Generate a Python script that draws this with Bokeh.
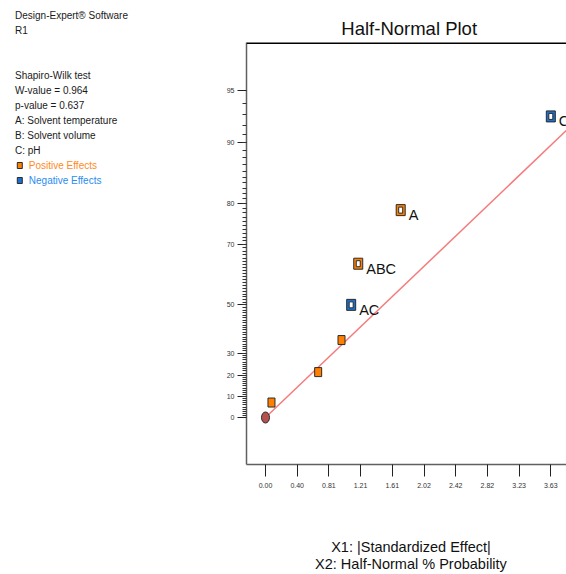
from statistics import NormalDist
from bokeh.plotting import figure
from bokeh.layouts import row, column
from bokeh.models import Range1d, FixedTicker, Span
from bokeh.core.properties import value
from bokeh.embed import file_html
from bokeh.resources import INLINE

# ---------------- data ----------------
effect_names = ["", "", "", "AC", "ABC", "A", "C"]
effect_abs = [0.076, 0.67, 0.967, 1.09, 1.18, 1.72, 3.63]          # |standardized effect|
half_normal_pct = [7.14, 21.43, 35.71, 50.0, 64.29, 78.57, 92.86]  # half-normal % probability
effect_sign = ["+", "+", "+", "-", "+", "+", "-"]
effect_selected = [False, False, False, True, True, True, True]
fit_slope = 0.449  # fitted line through the origin (z units per unit effect)

x_tick_values = [0.0, 0.4033, 0.8067, 1.21, 1.6133, 2.0167, 2.42, 2.8233, 3.2267, 3.63]
x_tick_labels = ["0.00", "0.40", "0.81", "1.21", "1.61", "2.02", "2.42", "2.82", "3.23", "3.63"]
y_tick_pct = [0, 10, 20, 30, 50, 70, 80, 90, 95]
y_minor_pct = list(range(1, 95))

info_lines = ["Design-Expert® Software", "R1", "", "", "Shapiro-Wilk test",
              "W-value = 0.964", "p-value = 0.637", "A: Solvent temperature",
              "B: Solvent volume", "C: pH"]
legend_labels = ["Positive Effects", "Negative Effects"]

title_text = "Half-Normal Plot"
xlabel_lines = ["X1: |Standardized Effect|", "X2: Half-Normal % Probability"]

# ---------------- styling ----------------
FONT = "Liberation Sans"
ORANGE = "#ff8000"
BLUE = "#1a6fd0"
ORANGE_TXT = "#ff8a1c"
BLUE_TXT = "#2a8cf0"
DARK = "#2b2b2b"

nd = NormalDist()


def hn(p):
    return nd.inv_cdf(0.5 + p / 200.0)


z_vals = [hn(v) for v in half_normal_pct]
colors = [ORANGE if s == "+" else BLUE for s in effect_sign]


def blank(w, h):
    f = figure(width=w, height=h, x_range=Range1d(0, w), y_range=Range1d(h, 0),
               x_axis_type=None, y_axis_type=None, output_backend="svg",
               toolbar_location=None, min_border=0, title_location=None)
    f.outline_line_color = None
    return f


# ---------------- left info panel ----------------
LW, H = 208, 574
left = blank(LW, H)
line_h = 15
left.text(x=[14.5] * len(info_lines), y=[15 + line_h * i for i in range(len(info_lines))],
          text=info_lines, text_baseline="middle", text_font=value(FONT),
          text_font_size="10px", text_color="#1a1a1a")
leg_y = [15 + line_h * (len(info_lines) + i) for i in range(2)]
left.rect(x=[19.3, 19.3], y=leg_y, width=5, height=6, width_units="screen",
          height_units="screen", fill_color=[ORANGE, BLUE], line_color=DARK, line_width=1)
left.text(x=[28.3, 28.3], y=leg_y, text=legend_labels, text_baseline="middle",
          text_font=value(FONT), text_font_size="10px",
          text_color=[ORANGE_TXT, BLUE_TXT])

# ---------------- title strip ----------------
RW = 566 - LW
top_fig = blank(RW, 42)
top_fig.text(x=[407 - LW - 17], y=[28], text=[title_text], text_align="center",
             text_baseline="middle", text_font=value(FONT), text_font_size="18.5px",
             text_color="#111111")

# ---------------- main plot ----------------
p = figure(width=RW, height=450, x_range=Range1d(-0.2417, 3.8295),
           y_range=Range1d(-0.2814, 2.2455), output_backend="svg",
           toolbar_location=None, title_location=None, min_border_left=38,
           min_border_right=0, min_border_top=0, min_border_bottom=28)
p.outline_line_color = None
p.xgrid.visible = False
p.ygrid.visible = False

yax = p.yaxis[0]
yax.ticker = FixedTicker(ticks=[hn(v) for v in y_tick_pct],
                         minor_ticks=[hn(v) for v in y_minor_pct])
yax.major_label_overrides = {hn(v): str(v) for v in y_tick_pct}
yax.major_tick_in = 0
yax.major_tick_out = 9
yax.minor_tick_in = 0
yax.minor_tick_out = 4
yax.major_tick_line_color = "#222222"
yax.minor_tick_line_color = "#333333"
yax.axis_line_color = "#606060"
yax.axis_line_width = 1.5
yax.major_label_text_font = FONT
yax.major_label_text_font_size = "7px"
yax.major_label_text_color = "#333333"
yax.major_label_standoff = 3

xax = p.xaxis[0]
xax.ticker = FixedTicker(ticks=x_tick_values, minor_ticks=[])
xax.major_label_overrides = {v: l for v, l in zip(x_tick_values, x_tick_labels)}
xax.major_tick_in = 0
xax.major_tick_out = 12
xax.minor_tick_line_color = None
xax.major_tick_line_color = "#222222"
xax.axis_line_color = "#606060"
xax.axis_line_width = 1.5
xax.major_label_text_font = FONT
xax.major_label_text_font_size = "7px"
xax.major_label_text_color = "#333333"
xax.major_label_standoff = 6

p.add_layout(Span(location=p.y_range.end, dimension="width", line_color="black",
                  line_width=3))

# fitted line through origin
x_end = 4.0
p.line(x=[0, x_end], y=[0, fit_slope * x_end], line_color="#f47c7c", line_width=1.5)
# origin point
p.ellipse(x=[0], y=[0], width=8, height=11, width_units="screen", height_units="screen",
          fill_color="#b5524f", line_color=DARK, line_width=1)

unsel = [i for i, s in enumerate(effect_selected) if not s]
sel = [i for i, s in enumerate(effect_selected) if s]

p.rect(x=[effect_abs[i] for i in unsel], y=[z_vals[i] for i in unsel], width=7, height=9,
       width_units="screen", height_units="screen",
       fill_color=[colors[i] for i in unsel], line_color=DARK, line_width=1)
p.rect(x=[effect_abs[i] for i in sel], y=[z_vals[i] for i in sel], width=9, height=11,
       width_units="screen", height_units="screen",
       fill_color=[colors[i] for i in sel], line_color=DARK, line_width=1)
p.rect(x=[effect_abs[i] for i in sel], y=[z_vals[i] for i in sel], width=4, height=6,
       width_units="screen", height_units="screen",
       fill_color="white", line_color=DARK, line_width=1)
p.text(x=[effect_abs[i] for i in sel], y=[z_vals[i] for i in sel],
       text=[effect_names[i] for i in sel], x_offset=8, y_offset=5,
       text_baseline="middle", text_font=value(FONT), text_font_size="14.5px",
       text_color="#111111")

# ---------------- axis title strip ----------------
bot = blank(RW, H - 42 - 450)
bot.text(x=[409 - LW - 17] * 2, y=[546 - 492, 563 - 492], text=xlabel_lines,
         text_align="center", text_baseline="middle", text_font=value(FONT),
         text_font_size="14.5px", text_color="#111111")

layout = row(left, column(top_fig, p, bot))
open("out.html", "w").write(file_html(layout, INLINE))
